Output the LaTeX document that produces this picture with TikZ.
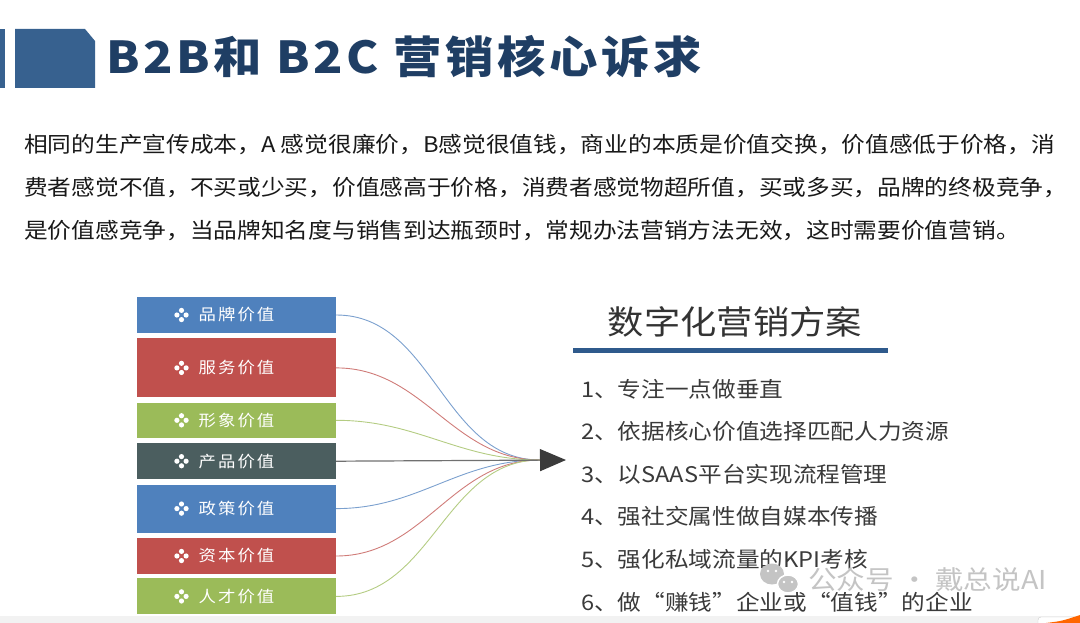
\documentclass[tikz,border=0pt]{standalone}
\usepackage{fontspec}
\setmainfont{Noto Sans CJK SC}[FakeStretch=1.1]
\newfontfamily\titlefont{Noto Sans CJK SC}[FakeStretch=1.1,LetterSpace=8]
\newfontfamily\boxfont{Noto Sans CJK SC}[FakeStretch=1.1,LetterSpace=13]
\usetikzlibrary{arrows.meta,positioning,calc}

\definecolor{hdrblue}{HTML}{37618F}
\definecolor{titleblue}{HTML}{1F3E64}
\definecolor{valblue}{HTML}{4F81BD}
\definecolor{valred}{HTML}{C0504D}
\definecolor{valgreen}{HTML}{9BBB59}
\definecolor{valslate}{HTML}{4B5E5F}
\definecolor{barblue}{HTML}{2F5A8C}
\definecolor{headgray}{HTML}{333333}
\definecolor{listgray}{HTML}{3A3A3A}
\definecolor{markgray}{HTML}{C4C4C4}
\definecolor{linegray}{HTML}{707070}
\definecolor{tipgray}{HTML}{3B3B3B}

\tikzset{
  valbox/.style={minimum width=199pt, minimum height=#1, inner sep=0pt,
    text=white, font=\boxfont\fontsize{15.8}{18}\selectfont},
  bodytext/.style={anchor=base west, inner sep=0pt, text=black!90,
    font=\fontsize{21.55}{26}\selectfont},
  listtext/.style={anchor=base west, inner sep=0pt, text=listgray,
    font=\fontsize{21.5}{26}\selectfont}
}

\begin{document}
\begin{tikzpicture}[x=1pt,y=-1pt]
        \useasboundingbox (0,0) rectangle (1080,623);
        % Title bar
        \fill[hdrblue] (0,29) rectangle (5,88);
        \fill[hdrblue] (15,29) -- (85,29) -- (95,41) -- (95,88) -- (15,88) -- cycle;
        \node[anchor=base west, inner sep=0pt, text=titleblue,
          font=\titlefont\bfseries\fontsize{44}{50}\selectfont] (title) at (106,74) {B2B和 B2C 营销核心诉求};
        % Paragraph
        \node[bodytext] (l1) at (24,153) {相同的生产宣传成本，A 感觉很廉价，B感觉很值钱，商业的本质是价值交换，价值感低于价格，消};
        \node[bodytext] (l2) at (24,196) {费者感觉不值，不买或少买，价值感高于价格，消费者感觉物超所值，买或多买，品牌的终极竞争，};
        \node[bodytext] (l3) at (24,239) {是价值感竞争，当品牌知名度与销售到达瓶颈时，常规办法营销方法无效，这时需要价值营销。};
        % Value boxes
        \node[valbox=36pt, fill=valblue] (b1) at (236.5,315) {品牌价值};
        \node[valbox=59pt, fill=valred, below=5pt of b1] (b2) {服务价值};
        \node[valbox=35pt, fill=valgreen, below=5pt of b2] (b3) {形象价值};
        \node[valbox=36pt, fill=valslate, below=5pt of b3] (b4) {产品价值};
        \node[valbox=48pt, fill=valblue, below=5pt of b4] (b5) {政策价值};
        \node[valbox=36pt, fill=valred, below=5pt of b5] (b6) {资本价值};
        \node[valbox=36pt, fill=valgreen, below=4pt of b6] (b7) {人才价值};
        % Dot marks
        \foreach \b in {b1,b2,b3,b4,b5,b6,b7}
          \foreach \d in {0,90,180,270}
            \fill[white] ($(\b.center)+(-55,0)+(\d:4.6)$) circle (2.6);
        % Curves into the arrow
        \coordinate (hub) at (540,460);
        \coordinate (tip) at (566,460);
        \foreach \b/\c in {b1/valblue,b2/valred,b3/valgreen,b5/valblue,b6/valred,b7/valgreen}
          \draw[\c!75!white, line width=0.9pt] (\b.east) to[out=0,in=180] (hub);
        \draw[linegray, line width=1.2pt, -{Triangle[length=26pt,width=22pt,color=tipgray]}] (b4.east) -- (tip);
        % Plan heading
        \node[anchor=base, inner sep=0pt, text=headgray, font=\fontsize{33}{38}\selectfont] (plan) at (735,334) {数字化营销方案};
        \draw[barblue, line width=5pt] (573,350.5) -- (888,350.5);
        % Plan list
        \foreach \t [count=\k] in {1、专注一点做垂直, 2、依据核心价值选择匹配人力资源, 3、以SAAS平台实现流程管理,
            4、强社交属性做自媒本传播, 5、强化私域流量的KPI考核, 6、做“赚钱”企业或“值钱”的企业}
          \node[listtext] (s\k) at (581,{397+42.6*(\k-1)}) {\t};
        % Watermark
        \fill[markgray] (772,574) ellipse (12 and 10.5);
        \draw[white, line width=1.5pt, fill=markgray] (788,584) ellipse (10.5 and 9);
        \foreach \p in {(768,571),(776,571),(784,582),(792,582)}
          \fill[white] \p circle (1.4);
        \node[anchor=base west, inner sep=0pt, text=markgray, font=\fontsize{26}{30}\selectfont] (mark) at (808,589) {公众号 · 戴总说AI};
        % Bottom strip
        \fill[black!5] (0,616) rectangle (1080,623);
        \draw[black!20, fill=white, rounded corners=3pt] (1038,617) rectangle (1084,628);
        \fill[orange!80!red] (1046,623) .. controls (1062,621) .. (1080,615) -- (1080,623) -- cycle;
\end{tikzpicture}
\end{document}
